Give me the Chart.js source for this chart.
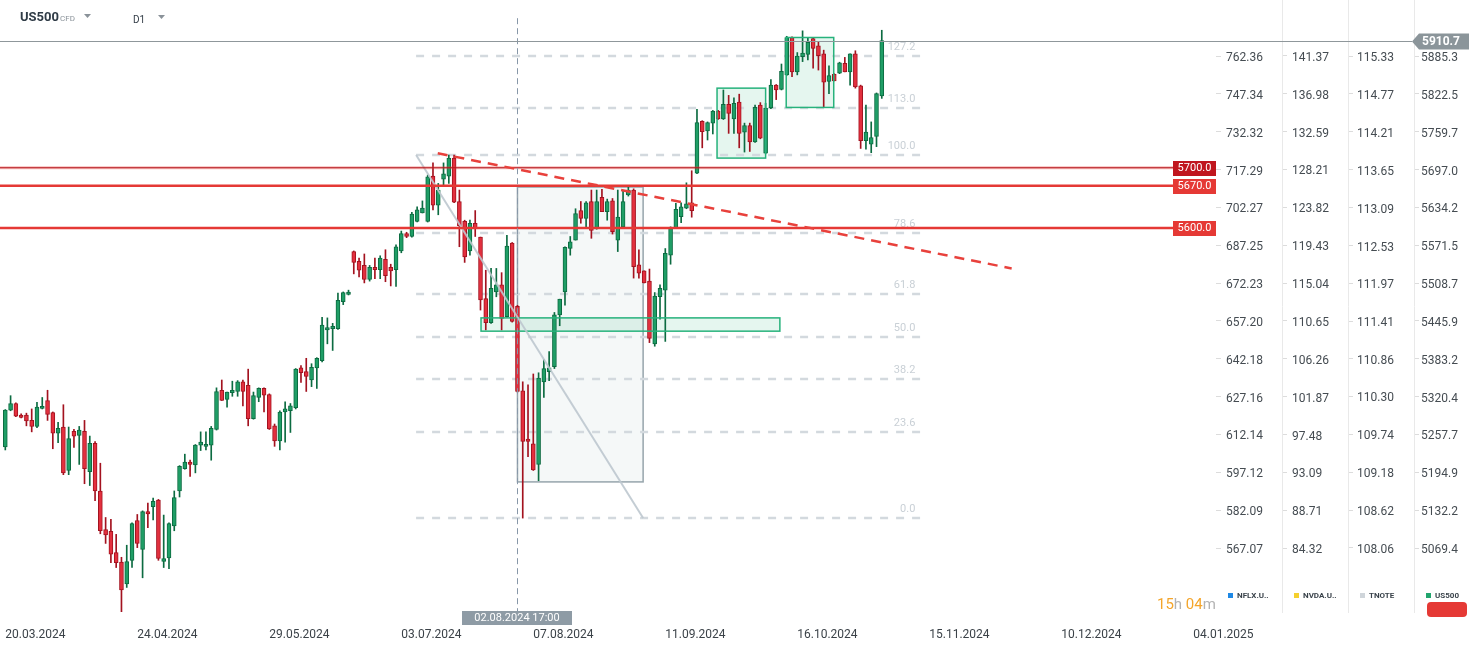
<!DOCTYPE html>
<html>
<head>
<meta charset="utf-8">
<script src="https://cdn.jsdelivr.net/npm/chart.js@4.4.1/dist/chart.umd.min.js"></script>
<style>
html,body{margin:0;padding:0;background:#ffffff;}
#wrap{width:1482px;height:650px;position:relative;overflow:hidden;}
</style>
</head>
<body>
<div id="wrap"><canvas id="c" width="1482" height="650"></canvas></div>
<script>
// ---------------- DATA ----------------
const symbol = 'US500';
const interval = 'D1';
const xTickIndex  = [0, 25, 50, 75, 100, 125, 150, 175, 200, 225];
const xTickLabels = ['20.03.2024','24.04.2024','29.05.2024','03.07.2024','07.08.2024','11.09.2024','16.10.2024','15.11.2024','10.12.2024','04.01.2025'];

const opens = [5237,5298,5309,5290,5290,5281,5271,5301,5314,5294,5260,5270,5198,5263,5256,5263,5196,5243,5164,5100,
5097,5062,5046,5010,5049,5115,5067,5130,5138,5149,5047,5053,5106,5164,5201,5212,5207,5240,5238,5240,
5266,5331,5316,5327,5329,5345,5339,5284,5319,5334,5324,5272,5247,5295,5297,5302,5368,5362,5348,5368,
5380,5431,5433,5433,5478,5490,5561,5545,5538,5515,5535,5531,5548,5535,5531,5562,5591,5586,5611,5625,
5611,5686,5638,5681,5686,5716,5644,5611,5562,5608,5585,5483,5443,5494,5506,5453,5575,5470,5330,5250,
5242,5208,5345,5362,5370,5456,5494,5566,5580,5629,5616,5644,5600,5651,5627,5645,5580,5602,5655,5663,
5539,5529,5512,5408,5486,5497,5555,5600,5619,5633,5642,5691,5777,5761,5774,5794,5781,5805,5781,5809,
5759,5770,5743,5804,5724,5799,5837,5830,5854,5916,5859,5884,5888,5914,5902,5889,5843,5855,5857,5873,
5859,5889,5836,5745,5739,5752,5819];
const highs = [5299,5322,5310,5292,5293,5300,5311,5319,5331,5295,5278,5307,5270,5266,5271,5281,5255,5246,5210,5120,
5117,5092,5054,5074,5111,5125,5131,5144,5152,5150,5124,5111,5164,5206,5225,5215,5241,5262,5262,5271,
5335,5348,5328,5346,5347,5348,5366,5328,5335,5335,5325,5275,5297,5312,5309,5367,5372,5384,5375,5385,
5452,5451,5442,5492,5494,5497,5562,5550,5557,5538,5550,5554,5564,5540,5572,5595,5593,5626,5635,5645,
5688,5708,5674,5708,5721,5721,5663,5613,5613,5629,5585,5530,5533,5533,5526,5588,5576,5472,5345,5340,
5358,5360,5382,5395,5460,5482,5569,5586,5632,5644,5644,5663,5663,5664,5648,5649,5663,5662,5669,5665,
5564,5529,5532,5493,5506,5566,5602,5641,5642,5675,5695,5797,5778,5776,5795,5795,5829,5820,5816,5822,
5774,5774,5804,5808,5807,5846,5838,5872,5918,5917,5891,5927,5916,5916,5909,5895,5869,5856,5875,5883,
5889,5894,5837,5804,5776,5824,5928];
const lows = [5232,5297,5287,5285,5272,5262,5269,5300,5281,5234,5244,5191,5191,5236,5208,5176,5173,5148,5093,5077,
5045,5037,4962,5004,5037,5070,5020,5103,5116,5049,5037,5035,5098,5154,5200,5188,5194,5231,5232,5215,
5265,5314,5303,5321,5321,5305,5272,5283,5312,5295,5266,5238,5232,5245,5261,5300,5344,5329,5337,5334,
5378,5408,5397,5432,5473,5489,5524,5519,5509,5512,5516,5516,5511,5504,5503,5559,5584,5585,5610,5625,
5610,5630,5622,5671,5674,5642,5569,5543,5555,5586,5464,5431,5442,5486,5431,5452,5444,5328,5119,5221,
5198,5181,5319,5347,5367,5438,5472,5555,5580,5608,5602,5583,5598,5627,5613,5590,5561,5602,5653,5517,
5517,5509,5410,5404,5449,5412,5540,5599,5609,5632,5618,5690,5733,5746,5756,5780,5780,5757,5757,5733,
5726,5727,5742,5748,5723,5798,5813,5829,5853,5851,5854,5876,5879,5865,5862,5800,5823,5844,5856,5859,
5837,5832,5732,5731,5725,5735,5815];
const closes = [5298,5309,5288,5286,5280,5271,5303,5304,5291,5260,5268,5194,5251,5255,5265,5201,5243,5164,5098,5091,
5059,5045,5000,5047,5110,5077,5130,5126,5147,5052,5052,5110,5153,5205,5212,5208,5240,5245,5241,5268,
5329,5314,5328,5331,5345,5329,5284,5322,5334,5323,5267,5247,5295,5300,5305,5366,5360,5354,5369,5384,
5439,5435,5437,5480,5493,5494,5543,5530,5515,5535,5531,5550,5521,5529,5569,5591,5586,5623,5630,5633,
5685,5638,5663,5690,5716,5643,5604,5552,5608,5600,5481,5443,5500,5506,5450,5570,5445,5329,5246,5246,
5199,5351,5367,5368,5456,5482,5568,5577,5624,5616,5642,5596,5644,5627,5644,5594,5618,5644,5663,5536,
5525,5509,5417,5487,5500,5558,5601,5631,5635,5640,5629,5775,5760,5775,5794,5781,5805,5790,5807,5757,
5770,5743,5800,5749,5799,5837,5829,5860,5916,5859,5885,5890,5908,5898,5886,5842,5853,5844,5874,5859,
5889,5834,5745,5759,5750,5823,5910.7];

// right-hand axes tick labels
const nflxTicks  = [762.36,747.34,732.32,717.29,702.27,687.25,672.23,657.20,642.18,627.16,612.14,597.12,582.09,567.07];
const nvdaTicks  = [141.37,136.98,132.59,128.21,123.82,119.43,115.04,110.65,106.26,101.87,97.48,93.09,88.71,84.32];
const tnoteTicks = [115.33,114.77,114.21,113.65,113.09,112.53,111.97,111.41,110.86,110.30,109.74,109.18,108.62,108.06];
const us500Ticks = [5885.3,5822.5,5759.7,5697.0,5634.2,5571.5,5508.7,5445.9,5383.2,5320.4,5257.7,5194.9,5132.2,5069.4];
const legendNames = ['NFLX.U..','NVDA.U..','TNOTE','US500'];

// drawing objects (in bar-index / price units)
const levelPrices = [5700.0, 5670.0, 5600.0];
const fibLevels = [0.0, 23.6, 38.2, 50.0, 61.8, 78.6, 100.0, 113.0, 127.2];
const fibHighPrice = 5721.2, fibLowPrice = 5119.0;
const fibHighIndex = 77.8, fibLowIndex = 120.8, fibEndIndex = 173.3;
const trendStart = [81.9, 5724];
const trendEnd = [190.6, 5533];
const rangeBox = [97, 120.8, 5668, 5179];
const greenZones = [[90.1, 146.7, 5451, 5429], [134.8, 144.0, 5832, 5716], [147.9, 156.9, 5916, 5800]];
const markerIndex = 97;
const markerTop = 5948;
const markerLabel = '02.08.2024 17:00';
const timerHours = '15', timerMinutes = '04';

// ---------------- STYLE ----------------
const FONT = 'Roboto, "Noto Sans", Arial, sans-serif';
const UP_FILL = '#1f9e66', UP_LINE = '#0c6b41';
const DN_FILL = '#e3303e', DN_LINE = '#a3121f';
Chart.defaults.font.family = FONT;

const isUp = opens.map((o, i) => closes[i] >= o);

function hline(ctx, x1, x2, yv, color, w, dash) {
  ctx.save();
  ctx.strokeStyle = color; ctx.lineWidth = w; ctx.setLineDash(dash || []);
  ctx.beginPath(); ctx.moveTo(x1, yv); ctx.lineTo(x2, yv); ctx.stroke();
  ctx.restore();
}

const overlay = {
  id: 'overlay',
  beforeDatasetsDraw(chart) {
    const {ctx, chartArea: ca, scales} = chart;
    const x = scales.x, y = scales.y;
    ctx.save();
    ctx.beginPath(); ctx.rect(ca.left, ca.top, ca.right - ca.left, ca.bottom - ca.top); ctx.clip();
    // range box
    const rx1 = x.getPixelForValue(rangeBox[0]), rx2 = x.getPixelForValue(rangeBox[1]);
    const ry1 = y.getPixelForValue(rangeBox[2]), ry2 = y.getPixelForValue(rangeBox[3]);
    ctx.fillStyle = 'rgba(232,240,240,0.45)';
    ctx.fillRect(rx1, ry1, rx2 - rx1, ry2 - ry1);
    ctx.strokeStyle = '#97a5ac'; ctx.lineWidth = 1.5;
    ctx.strokeRect(rx1, ry1, rx2 - rx1, ry2 - ry1);
    // green zones fill
    greenZones.forEach(z => {
      const a = x.getPixelForValue(z[0]), b = x.getPixelForValue(z[1]);
      const c = y.getPixelForValue(z[2]), d = y.getPixelForValue(z[3]);
      ctx.fillStyle = 'rgba(40,180,125,0.12)';
      ctx.fillRect(a, c, b - a, d - c);
    });
    // fib levels
    const fx1 = x.getPixelForValue(fibHighIndex), fx2 = x.getPixelForValue(fibEndIndex);
    fibLevels.forEach(lv => {
      const price = fibLowPrice + (fibHighPrice - fibLowPrice) * lv / 100;
      const py = Math.round(y.getPixelForValue(price));
      hline(ctx, fx1, fx2, py, '#d3d9de', 2.5, [8, 8]);
      ctx.fillStyle = '#c9d0d6'; ctx.font = '11px ' + FONT;
      ctx.textAlign = 'right'; ctx.textBaseline = 'middle';
      ctx.fillText(lv.toFixed(1), fx2 - 5, py - 9);
    });
    ctx.restore();
  },
  afterDatasetsDraw(chart) {
    const {ctx, chartArea: ca, scales} = chart;
    const x = scales.x, y = scales.y;
    ctx.save();
    ctx.beginPath(); ctx.rect(ca.left, ca.top, ca.right - ca.left, ca.bottom - ca.top); ctx.clip();
    // green zone borders
    greenZones.forEach(z => {
      const a = x.getPixelForValue(z[0]), b = x.getPixelForValue(z[1]);
      const c = y.getPixelForValue(z[2]), d = y.getPixelForValue(z[3]);
      ctx.strokeStyle = '#27b27c'; ctx.lineWidth = 1.5;
      ctx.strokeRect(a, c, b - a, d - c);
    });
    // fib diagonal
    ctx.strokeStyle = 'rgba(190,200,207,0.9)'; ctx.lineWidth = 2;
    ctx.beginPath();
    ctx.moveTo(x.getPixelForValue(fibHighIndex), y.getPixelForValue(fibHighPrice));
    ctx.lineTo(x.getPixelForValue(fibLowIndex), y.getPixelForValue(fibLowPrice));
    ctx.stroke();
    // horizontal levels
    levelPrices.forEach((lv, k) => {
      const py = y.getPixelForValue(lv);
      if (k === 0) {
        hline(ctx, ca.left, ca.right, py, 'rgba(229,57,53,0.35)', 3);
        hline(ctx, ca.left, ca.right, py, '#b3141c', 1.2);
      } else {
        hline(ctx, ca.left, ca.right, py, '#e53935', 2.5);
      }
    });
    // red dashed trend line
    ctx.save();
    ctx.strokeStyle = '#e8413c'; ctx.lineWidth = 2.5; ctx.setLineDash([10, 7]);
    ctx.beginPath();
    ctx.moveTo(x.getPixelForValue(trendStart[0]), y.getPixelForValue(trendStart[1]));
    ctx.lineTo(x.getPixelForValue(trendEnd[0]), y.getPixelForValue(trendEnd[1]));
    ctx.stroke();
    ctx.restore();
    // vertical dashed marker
    const mx = Math.round(x.getPixelForValue(markerIndex)) + 0.5;
    ctx.save();
    ctx.strokeStyle = '#8797a8'; ctx.lineWidth = 1; ctx.setLineDash([6, 4]);
    ctx.beginPath(); ctx.moveTo(mx, y.getPixelForValue(markerTop)); ctx.lineTo(mx, ca.bottom); ctx.stroke();
    ctx.restore();
    ctx.restore();
  },
  afterDraw(chart) {
    const {ctx, chartArea: ca, scales} = chart;
    const x = scales.x, y = scales.y;
    ctx.save();
    // level labels
    levelPrices.forEach((lv, k) => {
      const py = y.getPixelForValue(lv);
      ctx.fillStyle = k === 0 ? '#c0161e' : '#e53935';
      ctx.fillRect(ca.right - 43, Math.round(py) - 7, 43, 15);
      ctx.fillStyle = '#ffffff'; ctx.font = '11px ' + FONT;
      ctx.textAlign = 'center'; ctx.textBaseline = 'middle';
      ctx.fillText(lv.toFixed(1), ca.right - 21.5, Math.round(py) + 0.5);
    });
    // current price line and tag
    const last = closes[closes.length - 1];
    const py = Math.round(y.getPixelForValue(last)) + 0.5;
    const tagX = y.left - 2;
    hline(ctx, 0, tagX, py, '#8f979b', 1);
    ctx.fillStyle = '#8b959a';
    ctx.beginPath();
    ctx.moveTo(tagX, py); ctx.lineTo(tagX + 7, py - 8); ctx.lineTo(tagX + 57, py - 8);
    ctx.lineTo(tagX + 57, py + 8); ctx.lineTo(tagX + 7, py + 8); ctx.closePath(); ctx.fill();
    ctx.fillStyle = '#ffffff'; ctx.font = 'bold 12px ' + FONT;
    ctx.textAlign = 'left'; ctx.textBaseline = 'middle';
    ctx.fillText(last.toFixed(1), tagX + 10, py + 0.5);
    // marker date label
    const mx = x.getPixelForValue(markerIndex);
    ctx.fillStyle = '#8e9ba5';
    ctx.fillRect(Math.round(mx) - 55, ca.bottom - 1, 110, 14);
    ctx.fillStyle = '#ffffff'; ctx.font = '11px ' + FONT;
    ctx.textAlign = 'center'; ctx.textBaseline = 'middle';
    ctx.fillText(markerLabel, Math.round(mx), ca.bottom + 6.5);
    // header
    ctx.textAlign = 'left'; ctx.textBaseline = 'middle';
    ctx.fillStyle = '#2f3b46'; ctx.font = 'bold 13px ' + FONT;
    ctx.fillText(symbol, 20, 18);
    ctx.fillStyle = '#8a9299'; ctx.font = '8px ' + FONT;
    ctx.fillText('CFD', 60, 18.5);
    ctx.fillStyle = '#333d47'; ctx.font = '10px ' + FONT;
    ctx.fillText(interval, 133, 20);
    ctx.fillStyle = '#8a9299';
    [[84, 14], [158, 15]].forEach(t => {
      ctx.beginPath(); ctx.moveTo(t[0], t[1]); ctx.lineTo(t[0] + 7, t[1]); ctx.lineTo(t[0] + 3.5, t[1] + 4); ctx.closePath(); ctx.fill();
    });
    // timer
    ctx.font = '15px ' + FONT; ctx.textBaseline = 'middle';
    let tx = 1157;
    [[timerHours, '#f4a52b'], ['h ', '#b3b3b3'], [timerMinutes, '#f4a52b'], ['m', '#b3b3b3']].forEach(p => {
      ctx.fillStyle = p[1]; ctx.fillText(p[0], tx, 605); tx += ctx.measureText(p[0]).width;
    });
    // legend of right-hand axes
    const legColors = ['#1e88e5', '#f5d02e', '#cfd5da', '#21a56d'];
    const axisIds = ['yN', 'yV', 'yT', 'y'];
    axisIds.forEach((id, k) => {
      const s = scales[id];
      const lx = s.left + 12;
      ctx.fillStyle = legColors[k]; ctx.fillRect(lx, 593, 5, 5);
      ctx.fillStyle = '#3a434b'; ctx.font = 'bold 8px ' + FONT;
      ctx.textAlign = 'left'; ctx.fillText(legendNames[k], lx + 9, 596);
    });
    // red button
    const bx = scales.y.left + 13;
    ctx.fillStyle = '#e53935';
    ctx.beginPath();
    if (ctx.roundRect) { ctx.roundRect(bx, 602, 40, 15, 4); } else { ctx.rect(bx, 602, 40, 15); }
    ctx.fill();
    ctx.restore();
  }
};

function rightAxis(ticksArr, digits, weight, width, showBorder, pad, mn, mx) {
  return {
    type: 'linear', position: 'right', weight: weight, min: mn, max: mx, bounds: 'data',
    grid: { display: true, drawOnChartArea: false, drawTicks: true, tickLength: 5, color: '#dcdcdc' },
    border: { display: showBorder, color: '#e9e9e9', width: 1 },
    ticks: { padding: pad, color: '#454c52', font: { size: 12, family: FONT, lineHeight: '4px' }, autoSkip: false,
             callback: v => ['', Number(v).toFixed(digits)] },
    afterBuildTicks: s => { s.ticks = ticksArr.map(v => ({ value: v })); },
    afterFit: s => { s.width = width; s.paddingTop = 0; s.paddingBottom = 0; }
  };
}

new Chart(document.getElementById('c'), {
  type: 'bar',
  data: {
    datasets: [
      {
        label: 'body', xAxisID: 'x', yAxisID: 'y', order: 1, grouped: false,
        data: opens.map((o, i) => ({ x: i, y: [o, closes[i]] })),
        backgroundColor: isUp.map(u => u ? UP_FILL : DN_FILL),
        borderColor: isUp.map(u => u ? UP_LINE : DN_LINE),
        borderWidth: 1, borderSkipped: false, barThickness: 4, minBarLength: 2
      },
      {
        label: 'wick', xAxisID: 'x', yAxisID: 'y', order: 2, grouped: false,
        data: lows.map((l, i) => ({ x: i, y: [l, highs[i]] })),
        backgroundColor: isUp.map(u => u ? UP_LINE : DN_LINE),
        borderWidth: 0, barThickness: 1
      }
    ]
  },
  options: {
    responsive: false, animation: false, events: [],
    layout: { padding: 0 },
    plugins: { legend: { display: false }, tooltip: { enabled: false } },
    scales: {
      x: {
        type: 'linear', position: 'bottom', min: -1.004, max: 229.3, offset: false, bounds: 'data',
        grid: { display: false, drawTicks: false }, border: { display: false },
        ticks: { autoSkip: false, maxRotation: 0, minRotation: 0, align: 'start', padding: 16,
                 color: '#3b4248', font: { size: 12, family: FONT },
                 callback: (v, i) => xTickLabels[i] },
        afterBuildTicks: s => { s.ticks = xTickIndex.map(v => ({ value: v })); },
        afterFit: s => { s.height = 38; s.paddingLeft = 0; s.paddingRight = 0; }
      },
      yN: rightAxis(nflxTicks, 2, 1, 66, false, 5, 541.67, 784.59),
      yV: rightAxis(nvdaTicks, 2, 2, 66, true, 5, 76.90, 147.86),
      yT: rightAxis(tnoteTicks, 2, 3, 66, true, 4, 107.114, 116.158),
      y:  rightAxis(us500Ticks, 1, 4, 68, true, 2, 4963.27, 5978.17)
    }
  },
  plugins: [overlay]
});
</script>
</body>
</html>
